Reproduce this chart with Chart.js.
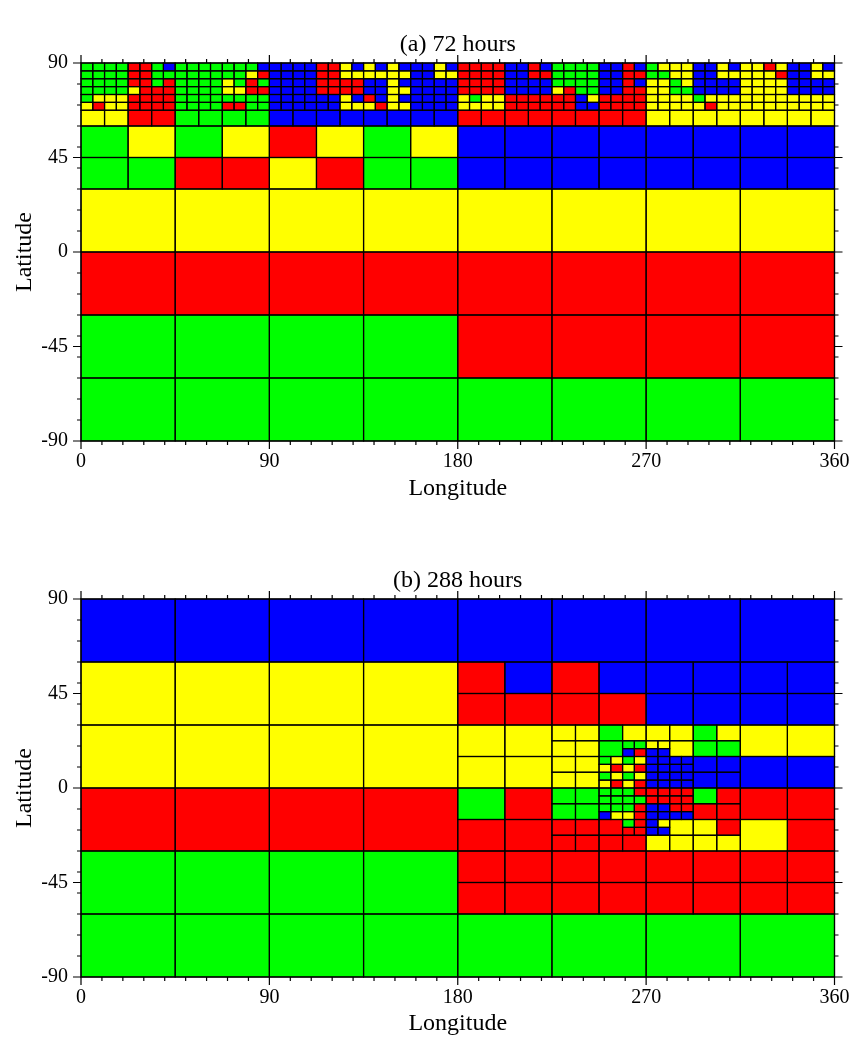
<!DOCTYPE html>
<html>
<head>
<meta charset="utf-8">
<script src="https://cdn.jsdelivr.net/npm/chart.js@4.4.1/dist/chart.umd.min.js"></script>
<style>
  html, body { margin: 0; padding: 0; background: #fff; }
  canvas { display: block; }
</style>
</head>
<body>
<canvas id="panelA" width="858" height="520"></canvas>
<canvas id="panelB" width="858" height="520"></canvas>
<script>
// cell codes -> colours
const cellColors = { G: '#00ff00', Y: '#ffff00', R: '#ff0000', B: '#0000ff' };

// mesh level L: cells are 45/2^L deg wide, 30/2^L deg tall
// rows run north to south, '.' = refined further (drawn by a finer level)

// (a) 72 hours
const a72Level0 = ['YYYYYYYY', 'RRRRRRRR', 'GGGGRRRR', 'GGGGGGGG'];   // from 30N
const a72Level1 = ['GYGYRYGY' + 'BBBBBBBB',
                   'GGRRYRGG' + 'BBBBBBBB'];                         // from 60N
const a72Level2 = ['YYRRGGGG' + 'BBBBBBBB' + 'RRRRRRRR' + 'YYYYYYYY'];  // from 67.5N
const a72Level3 = [                                                   // from 90N
  'GGGGRRGBGGGGGGGB' + 'BBBBRRYBYBYBBBYB' + 'RRRRBBRBGGGGBBRB' + 'GYYYBBYBYYRYBBYB',
  'GGGGRRGGGGGGGGYR' + 'BBBBRRYYYYYYBBYY' + 'RRRRBBRRGGGGBBRR' + 'GGYYBBYYYYYRBBYY',
  'GGGGRRGRGGGGYGRG' + 'BBBBRRRRBBYBBBBB' + 'RRRRBBBBGGGGBBRB' + 'YYGYBBBBYYYYBBBB',
  'GGGGYRRRGGGGYYRR' + 'BBBBRRRRBBYYBBBB' + 'RRRRBBBBYRGGBBRR' + 'YYGGBBBBYYYYBBBB',
  'GYYYRRRRGGGGGGGG' + 'BBBBBBYBRBYBBBBB' + 'YGYYRRRRRRBYRRRR' + 'YYYYGYYYYYYYYYYY',
  'YRYYRRRRGGGGRRGG' + 'BBBBBBYYYRYYBBBB' + 'YYYYRRRRRRBBRRRR' + 'YYYYYRYYYYYYYYYY'
];

// (b) 288 hours
const b288Level0 = ['BBBBBBBB', 'YYYY....', 'YYYY....', 'RRRR....', 'GGGG....', 'GGGGGGGG']; // 0E, 90N
const b288Level1 = ['RBRBBBBB', 'RRRRBBBB', 'YY....YY', 'YY....BB',
                    'GR....RR', 'RR....YR', 'RRRRRRRR', 'RRRRRRRR'];   // 180E, 60N
const b288Level2 = ['YYGYYYGY', 'YYG..YGG', 'YY....BB', 'YY....BB',
                    'GG....GR', 'GG....RR', 'RRR..YYR', 'RRRRYYYY'];   // 225E, 30N
const b288Level3 = ['..GGYY..', '..BRBB..', 'GYGYBBBB', 'YRYRBBBB',
                    'GYGYBBBB', 'YRYRBBBB', 'GGGRRRRR', 'GGGGRRRR',
                    'GGGRBBRR', 'BYYRBBBB', '..GRBY..', '..RRBB..'];   // 247.5E, 22.5N

const a72Layers = [
  { level: 0, lon: 0, lat: 30, rows: a72Level0 },
  { level: 1, lon: 0, lat: 60, rows: a72Level1 },
  { level: 2, lon: 0, lat: 67.5, rows: a72Level2 },
  { level: 3, lon: 0, lat: 90, rows: a72Level3 }
];
const b288Layers = [
  { level: 0, lon: 0, lat: 90, rows: b288Level0 },
  { level: 1, lon: 180, lat: 60, rows: b288Level1 },
  { level: 2, lon: 225, lat: 30, rows: b288Level2 },
  { level: 3, lon: 247.5, lat: 22.5, rows: b288Level3 }
];

// axis ticks
const lonTicks = [0, 10, 20, 30, 40, 50, 60, 70, 80, 90, 100, 110, 120, 130, 140, 150, 160, 170, 180,
                  190, 200, 210, 220, 230, 240, 250, 260, 270, 280, 290, 300, 310, 320, 330, 340, 350, 360];
const lonLabels = [0, 90, 180, 270, 360];
const latTicks = [-90, -80, -70, -60, -50, -45, -40, -30, -20, -10, 0, 10, 20, 30, 40, 45, 50, 60, 70, 80, 90];
const latLabels = [-90, -45, 0, 45, 90];

Chart.defaults.font.family = '"Liberation Serif", "Times New Roman", serif';
Chart.defaults.color = '#000';

const meshPlugin = {
  id: 'mesh',
  beforeDatasetsDraw(chart, args, opts) {
    const { ctx, scales: { x, y } } = chart;
    const rects = [];
    opts.layers.forEach(layer => {
      const dLon = 45 / Math.pow(2, layer.level);
      const dLat = 30 / Math.pow(2, layer.level);
      layer.rows.forEach((row, r) => {
        [...row].forEach((code, i) => {
          if (code === '.') return;
          const lon0 = layer.lon + i * dLon;
          const latTop = layer.lat - r * dLat;
          const x0 = x.getPixelForValue(lon0), x1 = x.getPixelForValue(lon0 + dLon);
          const y0 = y.getPixelForValue(latTop), y1 = y.getPixelForValue(latTop - dLat);
          rects.push([x0, y0, x1 - x0, y1 - y0, cellColors[code]]);
        });
      });
    });
    ctx.save();
    rects.forEach(r => { ctx.fillStyle = r[4]; ctx.fillRect(r[0], r[1], r[2], r[3]); });
    ctx.strokeStyle = '#000';
    ctx.lineWidth = 1.2;
    rects.forEach(r => ctx.strokeRect(r[0], r[1], r[2], r[3]));
    ctx.restore();
  }
};

const frameTicksPlugin = {
  id: 'frameTicks',
  afterDraw(chart) {
    const { ctx, chartArea: a, scales: { x, y } } = chart;
    ctx.save();
    ctx.strokeStyle = '#000';
    ctx.lineWidth = 1.2;
    ctx.strokeRect(a.left, a.top, a.right - a.left, a.bottom - a.top);
    ctx.beginPath();
    lonTicks.forEach(v => {
      const px = x.getPixelForValue(v);
      const len = lonLabels.includes(v) ? 8 : 4;
      ctx.moveTo(px, a.bottom); ctx.lineTo(px, a.bottom + len);
      ctx.moveTo(px, a.top); ctx.lineTo(px, a.top - len);
    });
    latTicks.forEach(v => {
      const py = y.getPixelForValue(v);
      const len = latLabels.includes(v) ? 8 : 4;
      ctx.moveTo(a.left, py); ctx.lineTo(a.left - len, py);
      ctx.moveTo(a.right, py); ctx.lineTo(a.right + len, py);
    });
    ctx.stroke();
    ctx.restore();
  }
};

function makePanel(id, title, layers, titleTop, xAxisHeight, xTitleBottom) {
  return new Chart(document.getElementById(id), {
    type: 'scatter',
    data: { datasets: [] },
    options: {
      responsive: false,
      animation: false,
      layout: { padding: { left: 0, right: 21, top: 0, bottom: 0 } },
      plugins: {
        legend: { display: false },
        tooltip: { enabled: false },
        title: {
          display: true,
          fullSize: false,
          text: title,
          font: { size: 24, weight: 'normal', lineHeight: 1.2 },
          padding: { top: titleTop, bottom: 3.6 }
        },
        mesh: { layers: layers }
      },
      scales: {
        x: {
          type: 'linear', min: 0, max: 360,
          afterBuildTicks: s => { s.ticks = lonTicks.map(v => ({ value: v })); },
          afterFit: s => { s.height = xAxisHeight; },
          grid: { display: false, drawTicks: false },
          border: { display: false },
          ticks: {
            autoSkip: false, maxRotation: 0, padding: 8.5,
            font: { size: 20 },
            callback: v => lonLabels.includes(v) ? String(v) : ''
          },
          title: { display: true, text: 'Longitude', font: { size: 24 }, padding: { top: 0, bottom: xTitleBottom } }
        },
        y: {
          type: 'linear', min: -90, max: 90,
          afterBuildTicks: s => { s.ticks = latTicks.map(v => ({ value: v })); },
          afterFit: s => { s.width = 81; },
          grid: { display: false, drawTicks: false },
          border: { display: false },
          ticks: {
            autoSkip: false, padding: 13,
            font: { size: 20 },
            callback: v => latLabels.includes(v) ? String(v) : ''
          },
          title: { display: true, text: 'Latitude', font: { size: 24 }, padding: { top: 10.6, bottom: 0 } }
        }
      }
    },
    plugins: [meshPlugin, frameTicksPlugin]
  });
}

makePanel('panelA', '(a) 72 hours', a72Layers, 30.6, 79, 16.6);
makePanel('panelB', '(b) 288 hours', b288Layers, 46.6, 63, 1.6);
</script>
</body>
</html>
